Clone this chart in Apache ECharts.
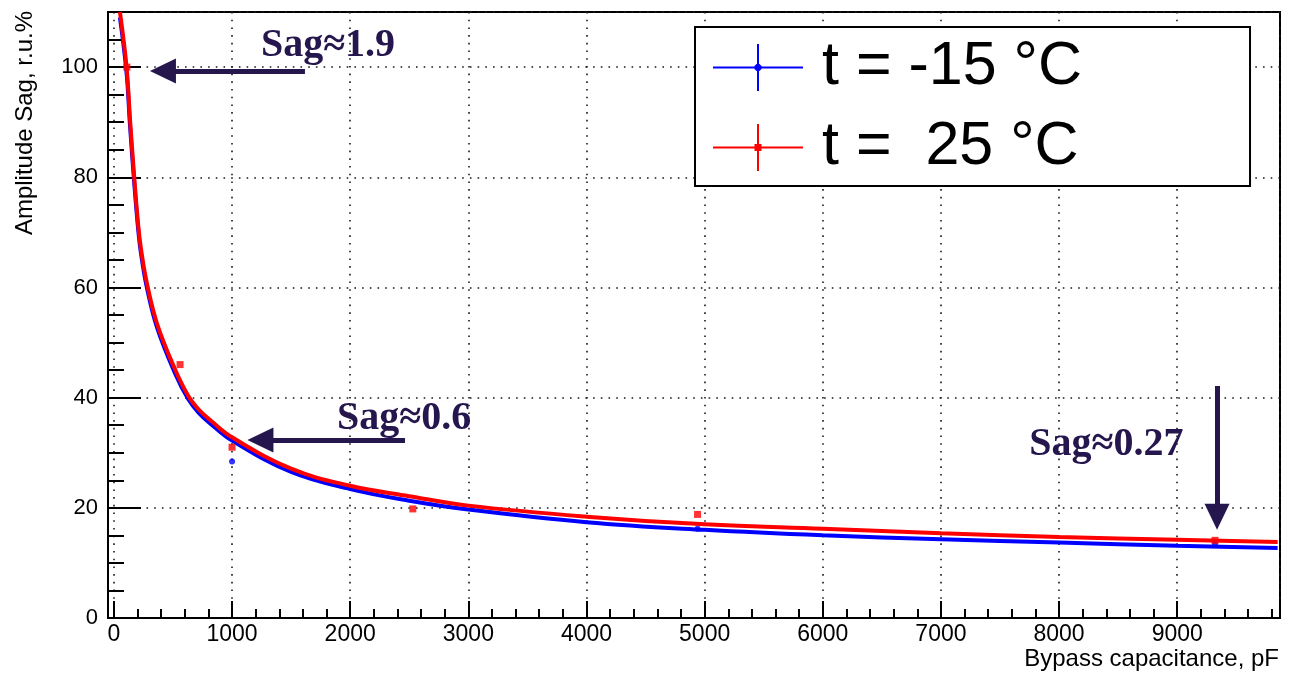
<!DOCTYPE html>
<html>
<head>
<meta charset="utf-8">
<title>Amplitude Sag vs Bypass capacitance</title>
<script src="https://cdn.jsdelivr.net/npm/echarts@6/dist/echarts.min.js"></script>
<style>
  html, body { margin: 0; padding: 0; background: #fff; }
  #chart { width: 1312px; height: 677px; }
</style>
</head>
<body>
<div id="chart"></div>
<script>
// legend / series names
const nameCold = 't = -15 °C'
const nameWarm = 't =  25 °C'

// fit curves (pF, %)
const coldFitX = [51, 107, 136, 172, 206, 229, 277, 364, 516, 630, 720, 827, 1000, 1500, 2000, 2500, 3000, 4000, 5000, 6000, 7000, 8000, 9000, 9850]
const coldFitY = [109, 99, 89.5, 79, 70.4, 66.2, 60.2, 52.8, 44.5, 39.7, 37.2, 35.1, 32.2, 26.5, 23.4, 21.3, 19.7, 17.4, 16.0, 15.0, 14.3, 13.7, 13.1, 12.7]
const warmFitX = [51, 107, 138, 172, 206, 229, 277, 364, 516, 630, 720, 827, 1000, 1500, 2000, 2500, 3000, 4000, 5000, 6000, 7000, 8000, 9000, 9850]
const warmFitY = [110, 100, 90, 80, 71.2, 67, 61, 53.5, 45.2, 40.3, 37.8, 35.7, 32.8, 27.1, 24.0, 22.1, 20.4, 18.4, 17.0, 16.2, 15.4, 14.7, 14.2, 13.8]

// measured points
const coldPointsX = [1000, 4940, 9320]
const coldPointsY = [28.4, 16.2, 13.4]
const warmPointsX = [110, 560, 1000, 2530, 4940, 9320]
const warmPointsY = [100, 46, 31, 19.8, 18.8, 14.1]

// annotations: arrow shafts (start -> head) and their texts
const arrowFrom = [[1617, 99.3], [2464, 32.3], [9337, 42.1]]
const arrowTo = [[415, 99.3], [1240, 32.3], [9337, 18.4]]
const sagTexts = ['Sag≈1.9', 'Sag≈0.6', 'Sag≈0.27']
const sagTextAt = [[1812, 103.8], [2456, 36.2], [8400, 31.5]]

const pairs = (xs, ys) => xs.map((x, i) => [x, ys[i]])

const BLUE = '#0000ff'
const RED = '#ff0000'
const INK = '#25164e'
const SANS = 'Liberation Sans'

// error-bar cross icons for the legend (90 x 47 box)
const coldIcon = 'path://M0,22.5h90v2h-90z M44,0h2v47h-2z M43.5,20h3l2,2v3l-2,2h-3l-2,-2v-3z'
const warmIcon = 'path://M0,22.5h90v2h-90z M44,0h2v47h-2z M41.5,20h7v7h-7z'

const chart = echarts.init(document.getElementById('chart'))

const dotted = { color: '#1a1a1a', width: 1.6, type: [1.6, 6.1] }

chart.setOption({
  animation: false,
  backgroundColor: '#fff',
  grid: {
    left: 108, right: 32, top: 12, bottom: 59,
    outerBoundsMode: 'none',
    containLabel: false,
    show: true, borderColor: '#000', borderWidth: 2, backgroundColor: '#fff'
  },
  legend: {
    left: 695, top: 27,
    orient: 'vertical',
    selectedMode: false,
    backgroundColor: '#fff',
    borderColor: '#000',
    borderWidth: 2,
    padding: [10, 168, 8, 18],
    itemWidth: 90,
    itemHeight: 47,
    itemGap: 19,
    textStyle: { fontFamily: SANS, fontSize: 61, color: '#000', padding: [0, 0, 0, 14] },
    data: [
      { name: nameCold, icon: coldIcon },
      { name: nameWarm, icon: warmIcon }
    ]
  },
  graphic: [{
    // y axis title, right-aligned to the top of the frame
    type: 'text',
    x: 25, y: 11,
    rotation: Math.PI / 2,
    silent: true,
    style: {
      text: 'Amplitude Sag, r.u.%',
      fontFamily: SANS, fontSize: 24, fill: '#000',
      align: 'right', verticalAlign: 'middle'
    }
  }, {
    // x axis title, right-aligned under the frame
    type: 'text',
    x: 1279, y: 659,
    silent: true,
    style: {
      text: 'Bypass capacitance, pF',
      fontFamily: SANS, fontSize: 24, fill: '#000',
      align: 'right', verticalAlign: 'middle'
    }
  }],
  xAxis: {
    type: 'value',
    min: -50, max: 9870,
    minInterval: 1000, maxInterval: 1000,
    axisLine: { onZero: false, lineStyle: { color: '#000', width: 2 } },
    axisTick: { inside: true, length: 17, lineStyle: { color: '#000', width: 2 } },
    minorTick: { show: true, splitNumber: 5, length: 9, lineStyle: { color: '#000', width: 2 } },
    axisLabel: {
      fontFamily: SANS, fontSize: 23, color: '#000', margin: 5,
      showMinLabel: false, showMaxLabel: false,
      formatter: v => String(v)
    },
    splitLine: { show: true, lineStyle: dotted }
  },
  yAxis: {
    type: 'value',
    min: 0, max: 110, interval: 20,
    axisLine: { onZero: false, lineStyle: { color: '#000', width: 2 } },
    axisTick: { inside: true, length: 33, lineStyle: { color: '#000', width: 2 } },
    minorTick: { show: true, splitNumber: 4, length: 16, lineStyle: { color: '#000', width: 2 } },
    axisLabel: { fontFamily: SANS, fontSize: 22, color: '#000', margin: 10, showMaxLabel: false, formatter: v => String(v) },
    splitLine: { show: true, lineStyle: dotted }
  },
  series: [
    {
      name: nameCold, type: 'line', color: BLUE,
      data: pairs(coldFitX, coldFitY),
      showSymbol: false, smooth: 0.4,
      lineStyle: { color: BLUE, width: 4 }, z: 2, silent: true
    },
    {
      name: nameWarm, type: 'line', color: RED,
      data: pairs(warmFitX, warmFitY),
      showSymbol: false, smooth: 0.4,
      lineStyle: { color: RED, width: 4 }, z: 3, silent: true
    },
    {
      name: nameCold, type: 'scatter', color: BLUE,
      data: pairs(coldPointsX, coldPointsY),
      symbol: 'circle', symbolSize: 6, z: 4
    },
    {
      name: nameWarm, type: 'scatter', color: RED,
      data: pairs(warmPointsX, warmPointsY),
      symbol: 'rect', symbolSize: 7, z: 5
    },
    {
      // arrows + "Sag" notes
      name: 'notes', type: 'line', data: [], z: 6, silent: true,
      markLine: {
        silent: true,
        symbol: ['none', 'triangle'],
        symbolSize: [25, 26],
        label: { show: false },
        lineStyle: { color: INK, width: 5, type: 'solid' },
        emphasis: { disabled: true },
        data: arrowFrom.map((p, i) => [{ coord: p }, { coord: arrowTo[i] }])
      },
      markPoint: {
        silent: true,
        symbol: 'rect',
        symbolSize: 1,
        itemStyle: { color: 'rgba(0,0,0,0)' },
        label: {
          show: true, position: 'inside', formatter: '{b}',
          fontFamily: 'Liberation Serif', fontWeight: 'bold', fontSize: 40, color: INK
        },
        data: sagTexts.map((t, i) => ({ name: t, coord: sagTextAt[i] }))
      }
    }
  ]
})
</script>
</body>
</html>
